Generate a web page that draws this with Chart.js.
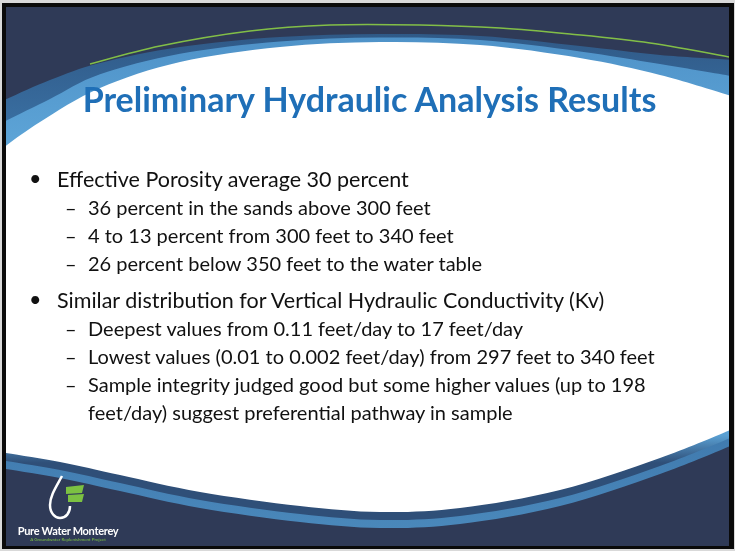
<!DOCTYPE html>
<html>
<head>
<meta charset="utf-8">
<script src="https://cdn.jsdelivr.net/npm/chart.js@4.4.1/dist/chart.umd.min.js"></script>
<style>
  html, body { margin: 0; padding: 0; background: #d9d9d9; }
  #slide { position: relative; width: 735px; height: 551px; overflow: hidden; }
  #bg { position: absolute; left: 0; top: 0; }
  #title {
    position: absolute; left: 0; width: 739px; top: 79px; text-align: center; line-height: 40px;
    font-family: Lato, sans-serif; font-weight: 700; font-size: 34px; color: #1f6fb7;
  }
  #list { position: absolute; left: 24px; top: 165px; width: 700px; font-family: Lato, sans-serif; color: #111111; }
  .main { position: relative; padding-left: 33px; font-size: 21.5px; line-height: 28px; }
  .main::before { content: "\2022"; position: absolute; left: 5px; top: -1px; }
  .subs { margin-bottom: 9px; }
  .sub { position: relative; padding-left: 64px; font-size: 20px; line-height: 28px; width: 600px; }
  .sub::before { content: "\2013"; position: absolute; left: 41px; top: 0; }
  #brand { position: absolute; left: 12px; top: 524px; width: 112px; text-align: center; font-family: Lato, sans-serif; }
  #brand .n { color: #ffffff; font-size: 11px; font-weight: 700; letter-spacing: -0.3px; line-height: 13px; }
  #brand .t { color: #7cc142; font-size: 4.5px; line-height: 6px; }
</style>
</head>
<body>
<div id="slide">
  <canvas id="bg" width="735" height="551"></canvas>
  <div id="title"></div>
  <div id="list"></div>
  <div id="brand"><div class="n">Pure Water Monterey</div><div class="t">A Groundwater Replenishment Project</div></div>
</div>
<script>
// Folieninhalt
const slideTitle = 'Preliminary Hydraulic Analysis Results';
const mainPoints = [
  'Effective Porosity average 30 percent',
  'Similar distribution for Vertical Hydraulic Conductivity (Kv)'
];
const porositySubs = [
  '36 percent in the sands above 300 feet',
  '4 to 13 percent from 300 feet to 340 feet',
  '26 percent below 350 feet to the water table'
];
const conductivitySubs = [
  'Deepest values from 0.11 feet/day to 17 feet/day',
  'Lowest values (0.01 to 0.002 feet/day) from 297 feet to 340 feet',
  'Sample integrity judged good but some higher values (up to 198 feet/day) suggest preferential pathway in sample'
];

document.getElementById('title').textContent = slideTitle;

// Liste aufbauen
const list = document.getElementById('list');
[porositySubs, conductivitySubs].forEach(function(subs, i) {
  const m = document.createElement('div');
  m.className = 'main';
  m.textContent = mainPoints[i];
  list.appendChild(m);
  const box = document.createElement('div');
  box.className = 'subs';
  subs.forEach(function(s) {
    const d = document.createElement('div');
    d.className = 'sub';
    d.textContent = s;
    box.appendChild(d);
  });
  list.appendChild(box);
});

// Umrisse der Hintergrund-Deko (nur Gestaltung, keine Daten)
const whiteTop = [[0,150],[40,122],[100,88],[180,62],[280,47],[380,42],[480,45],[580,58],[660,75],[735,97]];
const whiteBottom = [[735,428],[660,458],[560,490],[460,508],[380,512],[300,506],[200,492],[120,475],[60,462],[0,452]];
const rimTop = [[0,102],[50,80],[100,63],[180,47],[280,37],[380,34],[480,36],[580,46],[660,55],[735,60]];
const greenLine = [[90,64],[160,46],[250,31],[330,25],[420,25],[500,28],[570,34],[650,43],[735,58]];

function shift(pts, dy) { return pts.map(function(p) { return [p[0], p[1] + dy]; }); }
function mix(a, b, t) { return a.map(function(p, i) { return [p[0], p[1] + (b[i][1] - p[1]) * t]; }); }

// glatte Kurve durch Punkte (Catmull-Rom)
function curve(c, pts, first) {
  if (first) c.moveTo(pts[0][0], pts[0][1]); else c.lineTo(pts[0][0], pts[0][1]);
  for (let i = 0; i < pts.length - 1; i++) {
    const p0 = pts[i - 1] || pts[i], p1 = pts[i], p2 = pts[i + 1], p3 = pts[i + 2] || p2;
    c.bezierCurveTo(p1[0] + (p2[0] - p0[0]) / 6, p1[1] + (p2[1] - p0[1]) / 6,
                    p2[0] - (p3[0] - p1[0]) / 6, p2[1] - (p3[1] - p1[1]) / 6, p2[0], p2[1]);
  }
}
function band(c, top, bottom, fill) {
  c.fillStyle = fill;
  c.beginPath();
  curve(c, top, true);
  curve(c, bottom, false);
  c.closePath();
  c.fill();
}

// Hintergrund der Folie (Rahmen, Bogen, Logo) als Plugin
const slideBackground = {
  id: 'slideBackground',
  beforeDraw(chart) {
    const c = chart.ctx;
    c.save();
    c.fillStyle = '#d9d9d9';
    c.fillRect(0, 0, 735, 551);
    c.fillStyle = '#0a0a0a';
    c.fillRect(2, 3, 732, 546);
    c.fillStyle = '#2f3a57';
    c.fillRect(6, 7, 723, 539);

    c.beginPath();
    c.rect(6, 7, 723, 539);
    c.clip();

    // äußerer Rand
    const g1 = c.createLinearGradient(0, 20, 0, 530);
    g1.addColorStop(0, '#2e5683');
    g1.addColorStop(0.25, '#3c74a8');
    g1.addColorStop(0.8, '#3f79ad');
    g1.addColorStop(1, '#4a88bb');
    band(c, rimTop, shift(whiteBottom, 16), g1);

    // innerer, hellerer Rand (unten dunkler)
    const g2 = c.createLinearGradient(0, 0, 0, 551);
    g2.addColorStop(0, '#4a8cc3');
    g2.addColorStop(0.25, '#5ca3d6');
    g2.addColorStop(0.79, '#5aa0d3');
    g2.addColorStop(0.84, '#2f4f78');
    g2.addColorStop(1, '#2f4f78');
    band(c, mix(rimTop, whiteTop, 0.45), shift(whiteBottom, 8), g2);

    // weiße Fläche
    band(c, whiteTop, whiteBottom, '#ffffff');

    // grüne Linie oben
    c.strokeStyle = 'rgba(140, 205, 70, 0.9)';
    c.lineWidth = 1.5;
    c.beginPath();
    curve(c, greenLine, true);
    c.stroke();

    // Logo: Tropfen
    c.strokeStyle = '#ffffff';
    c.lineWidth = 2.5;
    c.beginPath();
    c.moveTo(62, 476);
    c.bezierCurveTo(56, 487, 50, 496, 50, 505);
    c.bezierCurveTo(50, 513, 55, 518, 60, 518);
    c.bezierCurveTo(66, 518, 70, 513, 70, 506);
    c.stroke();
    c.fillStyle = '#7cc142';
    c.beginPath();
    c.moveTo(66, 487); c.lineTo(84, 485); c.lineTo(82, 493); c.lineTo(66, 494);
    c.closePath(); c.fill();
    c.beginPath();
    c.moveTo(68, 495); c.lineTo(84, 494); c.lineTo(82, 502); c.lineTo(68, 502);
    c.closePath(); c.fill();
    c.restore();
  }
};

const ctx = document.getElementById('bg').getContext('2d');
new Chart(ctx, {
  type: 'scatter',
  data: { datasets: [] },
  options: {
    responsive: false,
    animation: false,
    events: [],
    scales: { x: { display: false }, y: { display: false } },
    plugins: { legend: { display: false }, tooltip: { enabled: false } }
  },
  plugins: [slideBackground]
});
</script>
</body>
</html>
